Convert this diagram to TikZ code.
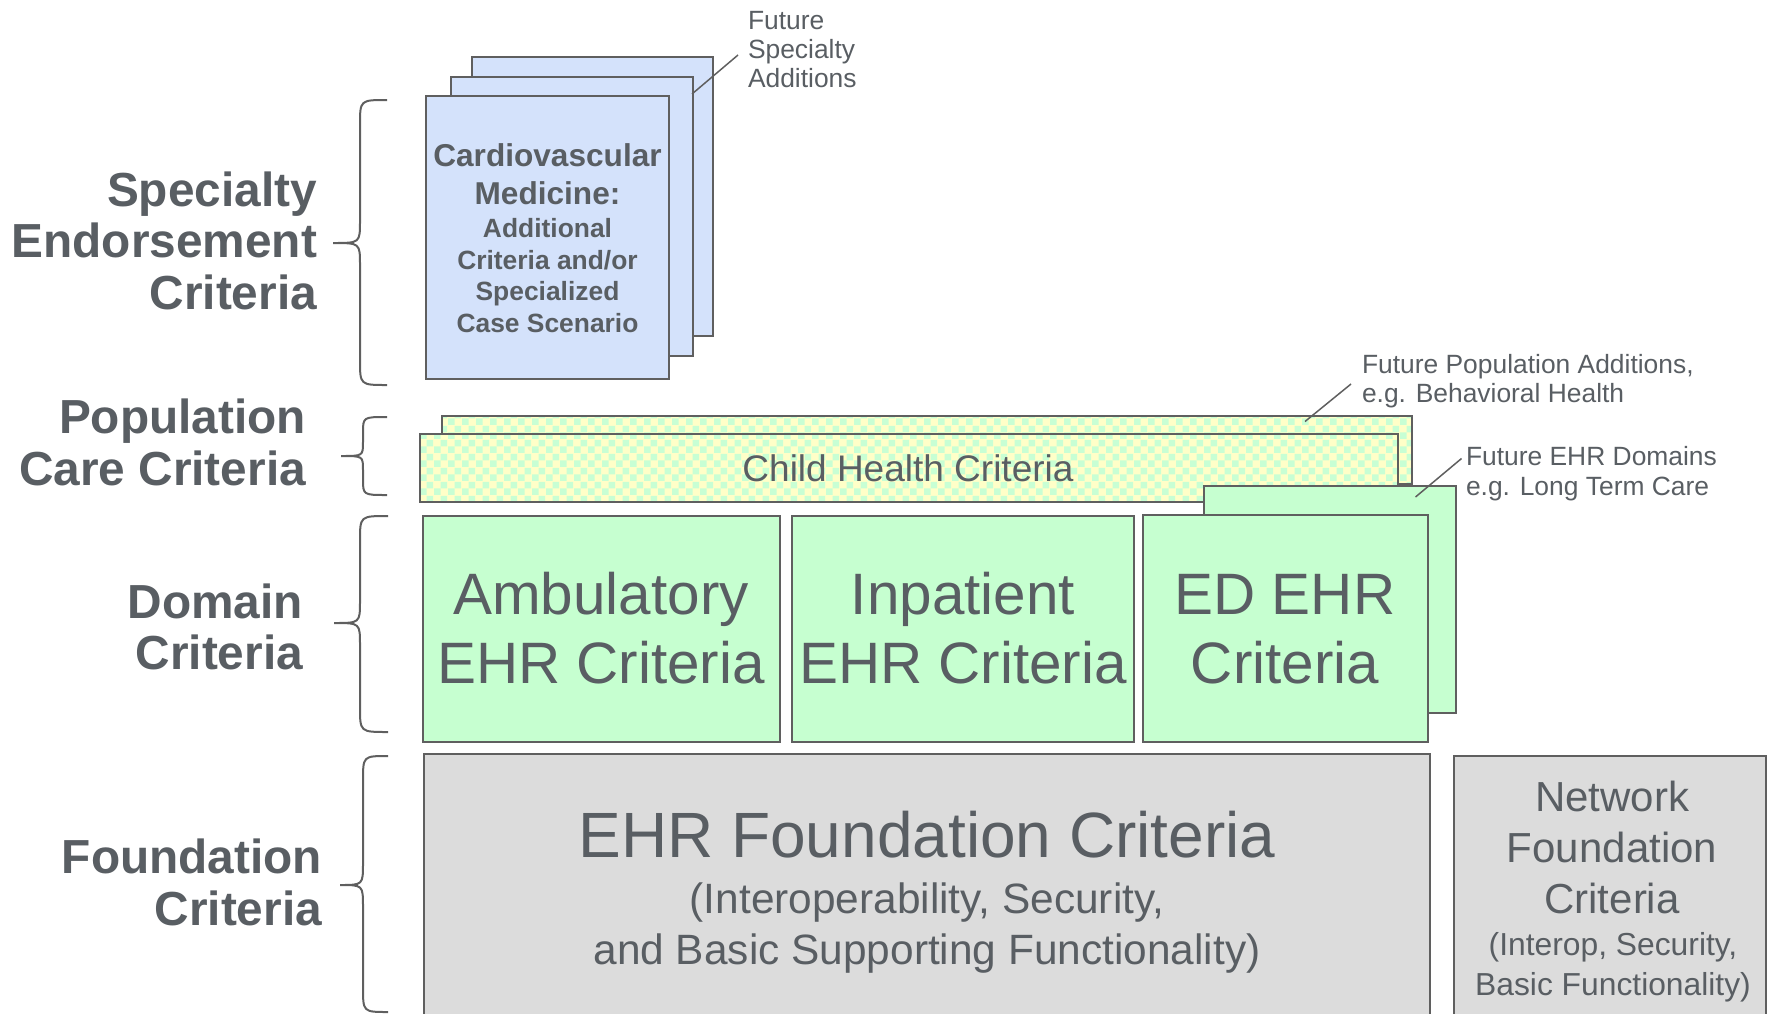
\documentclass[tikz,border=0pt]{standalone}
\usepackage{fontspec}
\setmainfont{Liberation Sans}
\usetikzlibrary{patterns.meta}
\definecolor{textgray}{RGB}{89,94,99}
\definecolor{linegray}{RGB}{95,95,95}
\definecolor{bluefill}{RGB}{212,226,251}
\definecolor{greenfill}{RGB}{198,255,208}
\definecolor{grayfill}{RGB}{220,220,220}
\definecolor{chkyellow}{RGB}{255,255,200}
\definecolor{chkgreen}{RGB}{200,255,212}
\tikzdeclarepattern{
  name=chk,
  type=uncolored,
  bounding box={(0pt,0pt) and (14pt,14pt)},
  tile size={(14pt,14pt)},
  code={
    \fill (0pt,0pt) rectangle (7pt,7pt);
    \fill (7pt,7pt) rectangle (14pt,14pt);
  }
}
\tikzset{
  box/.style={draw=linegray, line width=2pt, inner sep=0pt, outer sep=0pt, anchor=north west},
  bluebox/.style={box, fill=bluefill},
  greenbox/.style={box, fill=greenfill},
  graybox/.style={box, fill=grayfill},
  chkbox/.style={box, preaction={fill=chkyellow}, pattern=chk, pattern color=chkgreen},
  txt/.style={text=textgray, inner sep=0pt, outer sep=0pt, text depth=0pt},
  lbl/.style={txt, align=right, anchor=south east, font=\bfseries\fontsize{47.8}{51.5}\selectfont},
  big/.style={txt, align=center, anchor=south, font=\fontsize{58.4}{69}\selectfont},
  note/.style={txt, align=left, anchor=south west, font=\fontsize{26.4}{29}\selectfont},
  leader/.style={draw=linegray, line width=1.5pt},
  brace/.style={draw=linegray, line width=2pt},
}
\begin{document}
\begin{tikzpicture}[x=1pt,y=-1pt]
\useasboundingbox (0,0) rectangle (1767,1013);
\clip (0,0) rectangle (1767,1013);

% Specialty pages
\node[bluebox, minimum width=241, minimum height=279] (pageC) at (472,57) {};
\node[bluebox, minimum width=242, minimum height=279] (pageB) at (451,77) {};
\node[bluebox, minimum width=243, minimum height=283] (pageA) at (426,96) {};
\node[txt, align=center, anchor=south, font=\bfseries\fontsize{31.6}{37.3}\selectfont] (cardT) at (547.5,204) {Cardiovascular\\Medicine:};
\node[txt, align=center, anchor=south, font=\bfseries\fontsize{26.4}{31.8}\selectfont] (cardS) at (547.5,332.7) {Additional\\Criteria and/or\\Specialized\\Case Scenario};

% Population bars
\node[chkbox, minimum width=970, minimum height=68] (popB) at (442,416) {};
\node[chkbox, minimum width=978, minimum height=67.5] (popA) at (420,434) {};
\node[txt, anchor=base, font=\fontsize{37}{44}\selectfont] (childT) at (908,481) {Child Health Criteria};

% Domain boxes
\node[greenbox, minimum width=252, minimum height=227] (futEHR) at (1204,486) {};
\node[greenbox, minimum width=357, minimum height=226] (amb) at (423,515.5) {};
\node[greenbox, minimum width=342, minimum height=226] (inp) at (792,515.5) {};
\node[greenbox, minimum width=285.5, minimum height=227] (ed) at (1142.5,514.5) {};
\node[big] (ambT) at (601,683) {Ambulatory\\EHR Criteria};
\node[big] (inpT) at (963,683) {Inpatient\\EHR Criteria};
\node[big] (edT) at (1285,683) {ED EHR\\Criteria};

% Foundation boxes
\node[graybox, minimum width=1006, minimum height=280] (ehrF) at (424,754) {};
\node[graybox, minimum width=312, minimum height=280] (netF) at (1454,756) {};
\node[txt, anchor=base, font=\fontsize{64}{76}\selectfont] (ehrFT) at (927,857) {EHR Foundation Criteria};
\node[txt, align=center, anchor=south, font=\fontsize{42.4}{51}\selectfont] (ehrFS) at (927,964) {(Interoperability, Security,\\and Basic Supporting Functionality)};
\node[txt, align=center, anchor=south, font=\fontsize{42}{51}\selectfont] (netFT) at (1612,913.3) {Network\\Foundation\\Criteria};
\node[txt, align=center, anchor=south, font=\fontsize{31.8}{40}\selectfont] (netFS) at (1613,995) {(Interop, Security,\\Basic Functionality)};

% Notes and leaders
\node[note] (fsN) at (748,87.5) {Future\\Specialty\\Additions};
\node[note, font=\fontsize{26.4}{28.8}\selectfont] (fpN) at (1362,402.5) {Future Population Additions,\\e.g. Behavioral Health};
\node[note, font=\fontsize{26.4}{29.5}\selectfont] (feN) at (1466,495) {Future EHR Domains\\e.g. Long Term Care};
\coordinate (fsA) at (692,94);
\coordinate (fsB) at (738,55);
\coordinate (fpA) at (1305,421.5);
\coordinate (fpB) at (1351,384);
\coordinate (feA) at (1415.5,497);
\coordinate (feB) at (1461.5,458.5);
\draw[leader] (fsA) -- (fsB);
\draw[leader] (fpA) -- (fpB);
\draw[leader] (feA) -- (feB);

% Labels
\node[lbl] (specL) at (317,309.3) {Specialty\\Endorsement\\Criteria};
\node[lbl] (popL) at (306,485) {Population\\Care Criteria};
\node[lbl] (domL) at (303,669.5) {Domain\\Criteria};
\node[lbl] (fndL) at (322,925) {Foundation\\Criteria};

% Braces
\draw[brace] (387,100) .. controls (360,100) .. (360,125) -- (360,221) .. controls (360,243) .. (333,243) .. controls (360,243) .. (360,265) -- (360,360) .. controls (360,385) .. (387,385);
\draw[brace] (387,417) .. controls (363,417) .. (363,433) -- (363,442) .. controls (363,456) .. (341,456) .. controls (363,456) .. (363,470) -- (363,479) .. controls (363,495) .. (387,495);
\draw[brace] (388,516) .. controls (360,516) .. (360,541) -- (360,601) .. controls (360,623) .. (334,623) .. controls (360,623) .. (360,645) -- (360,707) .. controls (360,732) .. (388,732);
\draw[brace] (388,756) .. controls (363,756) .. (363,781) -- (363,863) .. controls (363,885) .. (340,885) .. controls (363,885) .. (363,907) -- (363,987) .. controls (363,1012) .. (388,1012);
\end{tikzpicture}
\end{document}
